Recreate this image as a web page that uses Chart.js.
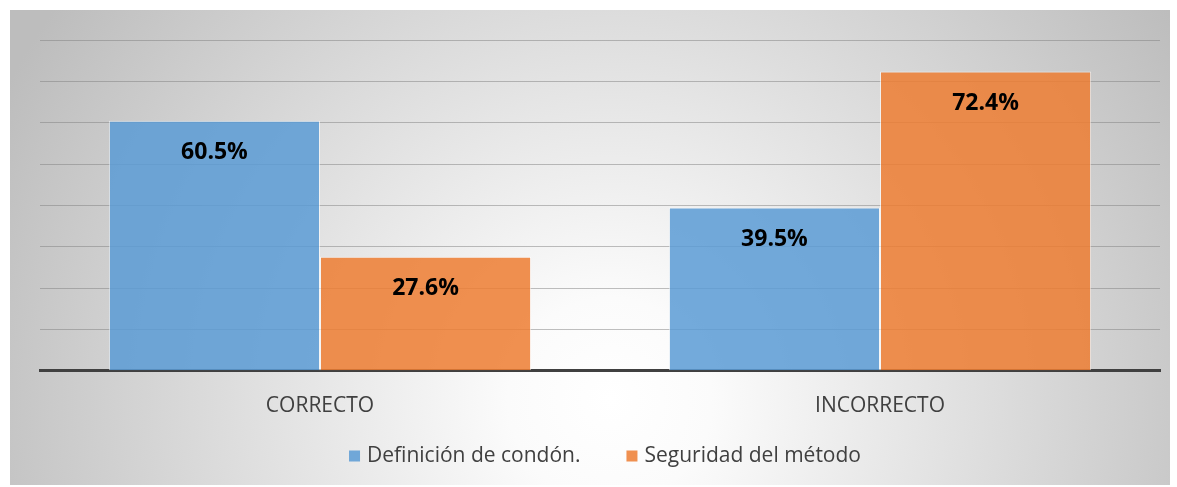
<!DOCTYPE html>
<html>
<head>
<meta charset="utf-8">
<script src="https://cdn.jsdelivr.net/npm/chart.js@4/dist/chart.umd.min.js"></script>
<style>
body { margin: 0; background: #fff; }
#wrap { width: 1177px; height: 487px; }
</style>
</head>
<body>
<div id="wrap"><canvas id="chart"></canvas></div>
<script>
// datos
var categorias = ['CORRECTO', 'INCORRECTO'];
var definicion = [60.5, 39.5];
var seguridad = [27.6, 72.4];
var nombresSeries = ['Definición de condón.', 'Seguridad del método'];

var fuente = '"Open Sans"';

// fondo con degradado radial
var fondo = {
    id: 'fondo',
    beforeDraw: function(chart) {
        var ctx = chart.ctx;
        ctx.save();
        ctx.fillStyle = '#fff';
        ctx.fillRect(0, 0, chart.width, chart.height);
        var g = ctx.createRadialGradient(610, 400, 0, 610, 400, 680);
        g.addColorStop(0, '#ffffff');
        g.addColorStop(0.15, '#fbfbfb');
        g.addColorStop(1, '#bdbdbd');
        ctx.fillStyle = g;
        ctx.fillRect(10, 10, 1160, 475);
        ctx.restore();
    }
};

// etiquetas dentro de las barras
var etiquetas = {
    id: 'etiquetas',
    afterDatasetsDraw: function(chart) {
        var ctx = chart.ctx;
        ctx.save();
        ctx.font = 'bold 23px ' + fuente;
        ctx.fillStyle = '#000';
        ctx.textAlign = 'center';
        ctx.textBaseline = 'middle';
        chart.data.datasets.forEach(function(ds, i) {
            chart.getDatasetMeta(i).data.forEach(function(bar, j) {
                ctx.fillText(ds.data[j].toFixed(1) + '%', bar.x, bar.y + 32);
            });
        });
        ctx.restore();
    }
};

// leyenda abajo (separacion horizontal propia)
var leyenda = {
    id: 'leyenda',
    afterDraw: function(chart) {
        var ctx = chart.ctx;
        var caja = 11, hueco = 7, sep = 46, y = 456;
        ctx.save();
        ctx.font = '21px ' + fuente;
        ctx.textBaseline = 'middle';
        var items = chart.data.datasets.map(function(ds) {
            return { texto: ds.label, color: ds.backgroundColor, w: ctx.measureText(ds.label).width };
        });
        var total = 0;
        items.forEach(function(it, i) {
            total += caja + hueco + it.w + (i > 0 ? sep : 0);
        });
        var x = 605 - total / 2;
        items.forEach(function(it) {
            ctx.fillStyle = it.color;
            ctx.fillRect(x, y - caja / 2, caja, caja);
            ctx.fillStyle = '#404040';
            ctx.fillText(it.texto, x + caja + hueco, y);
            x += caja + hueco + it.w + sep;
        });
        ctx.restore();
    }
};

var ctx = document.getElementById('chart').getContext('2d');
var chart = new Chart(ctx, {
    type: 'bar',
    data: {
        labels: categorias,
        datasets: [{
            label: nombresSeries[0],
            data: definicion,
            backgroundColor: 'rgba(91,155,213,0.85)',
            borderColor: 'rgba(255,255,255,0.6)',
            borderWidth: 1
        }, {
            label: nombresSeries[1],
            data: seguridad,
            backgroundColor: 'rgba(237,125,49,0.85)',
            borderColor: 'rgba(255,255,255,0.6)',
            borderWidth: 1
        }]
    },
    options: {
        responsive: true,
        maintainAspectRatio: false,
        animation: false,
        layout: { padding: { left: 40, right: 17, top: 40, bottom: 53 } },
        categoryPercentage: 0.754,
        barPercentage: 1,
        scales: {
            x: {
                grid: { display: false },
                border: { color: '#404040', width: 3 },
                ticks: {
                    color: '#404040',
                    font: { family: fuente, size: 21 },
                    padding: 15
                }
            },
            y: {
                min: 0,
                max: 80,
                ticks: { display: false, stepSize: 10 },
                border: { display: false },
                grid: { color: 'rgba(128,128,128,0.5)', lineWidth: 1, drawTicks: false }
            }
        },
        plugins: {
            legend: { display: false },
            tooltip: { enabled: false }
        }
    },
    plugins: [fondo, etiquetas, leyenda]
});
</script>
</body>
</html>
